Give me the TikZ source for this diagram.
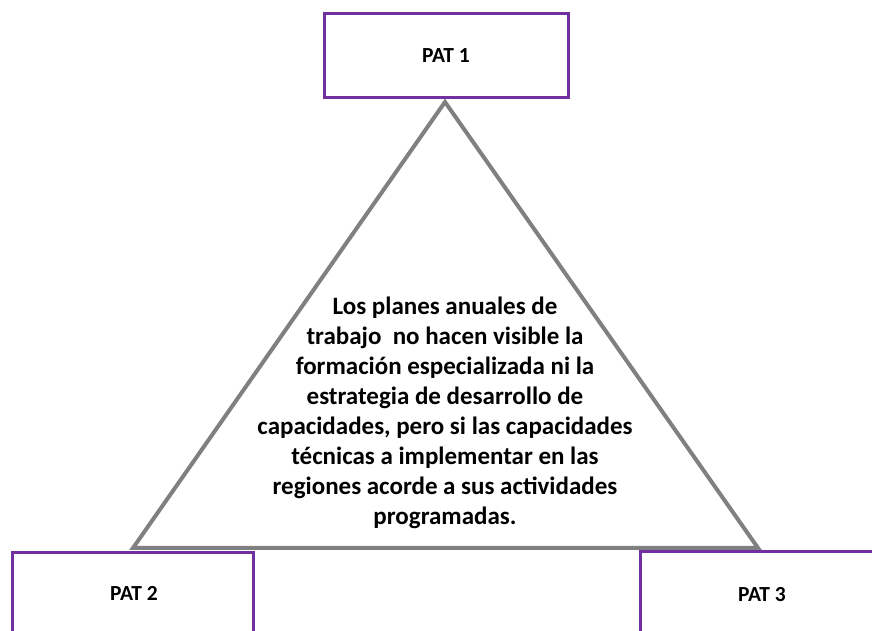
\documentclass[tikz,border=0pt]{standalone}
\usepackage{fontspec}
\setmainfont{Carlito}
\definecolor{patpurple}{HTML}{7030A0}
\definecolor{trigray}{HTML}{808080}
\begin{document}
\begin{tikzpicture}[x=1pt,y=1pt,
  patbox/.style={draw=patpurple,line width=3pt,fill=white,minimum width=244pt,inner sep=0pt},
  pattext/.style={font=\bfseries\fontsize{21.5}{24}\selectfont,text=black}]
\useasboundingbox (0,0) rectangle (872,631);
\clip (0,0) rectangle (872,631);
% triangle
\coordinate (apex) at (445,529);
\coordinate (bl) at (133,83);
\coordinate (br) at (758,83);
\draw[trigray,line width=4pt,line join=miter] (apex) -- (bl) -- (br) -- cycle;
% PAT boxes
\node[patbox,minimum height=84pt] (p1) at (446,575) {};
\node[pattext] (t1) at (p1.center) {PAT 1};
\node[patbox,minimum width=241pt,minimum height=92pt] (p2) at (132.5,32) {};
\node[pattext] (t2) at (134,38) {PAT 2};
\node[patbox,minimum height=92pt] (p3) at (762,33) {};
\node[pattext] (t3) at (762,36) {PAT 3};
% text
\node[font=\bfseries\fontsize{25}{30}\selectfont,align=center,text=black] (txt) at (445,218)
{Los planes anuales de\\trabajo\ \ no hacen visible la\\formación especializada ni la\\estrategia de desarrollo de\\capacidades, pero si las capacidades\\técnicas a implementar en las\\regiones acorde a sus actividades\\programadas.};
\end{tikzpicture}
\end{document}
